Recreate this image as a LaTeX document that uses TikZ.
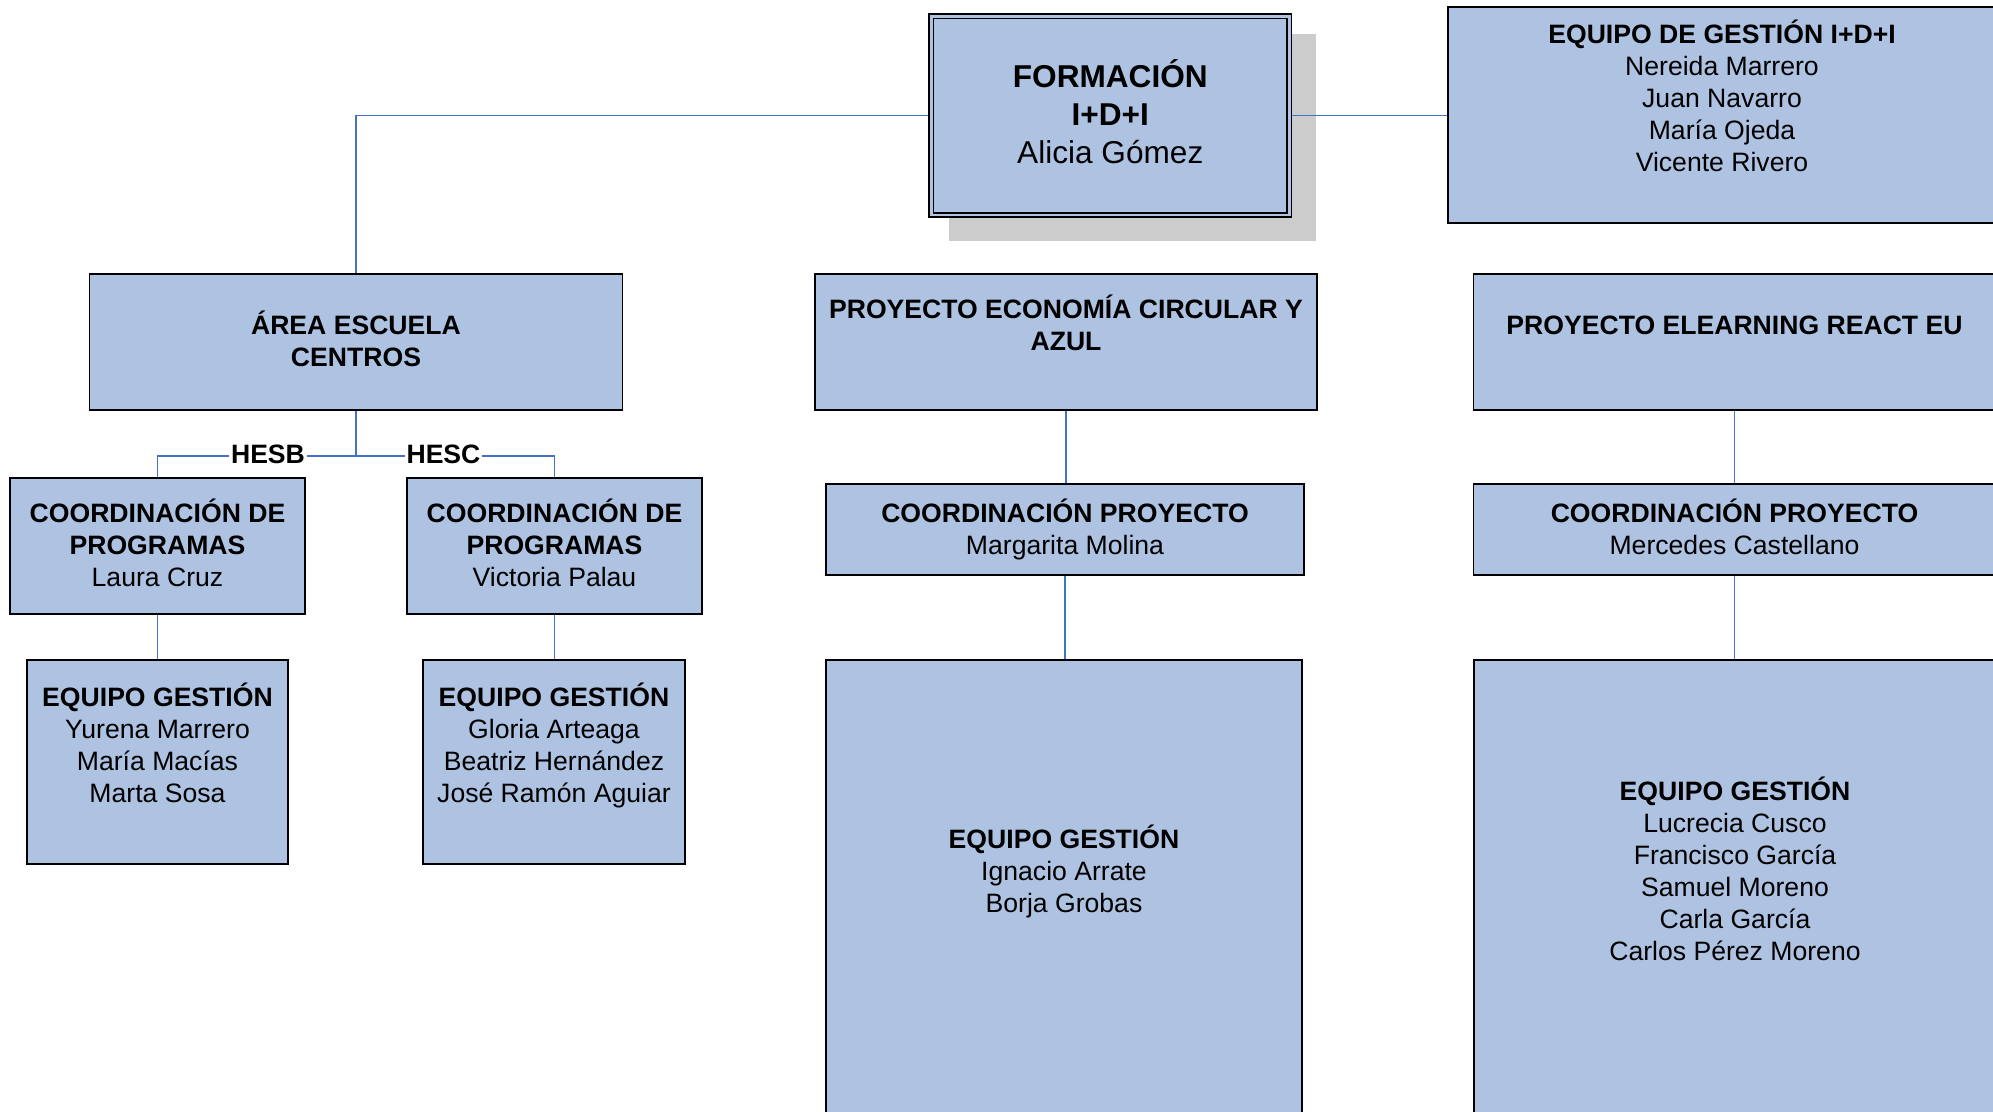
\documentclass[tikz,border=0pt]{standalone}
\usepackage{fontspec}
\setmainfont{Liberation Sans}
\usetikzlibrary{backgrounds}
\definecolor{boxblue}{RGB}{174,194,226}
\definecolor{shadowgray}{RGB}{204,204,204}
\definecolor{connblue}{RGB}{68,114,196}
\newcommand\sT{\rule[-3.55pt]{0pt}{16pt}}
\newcommand\sF{\rule[-4.45pt]{0pt}{19pt}}
\tikzset{
  orgbox/.style={draw=black, line width=0.85pt, fill=boxblue, inner sep=0pt,
    align=center, text=black, font=\fontsize{13.3}{16}\selectfont},
  conn/.style={draw=connblue, line width=0.65pt},
  lbl/.style={fill=white, inner xsep=1pt, inner ysep=1pt, text=black,
    font=\bfseries\fontsize{13.3}{16}\selectfont}
}
\begin{document}
\begin{tikzpicture}[x=0.5pt, y=-0.5pt]
\useasboundingbox (0,0) rectangle (1993,1112);

% top level
\node[orgbox, minimum width=179pt, minimum height=99.25pt, double=boxblue,
      double distance=1.2pt, font=\fontsize{15.8}{19}\selectfont] (form) at (1110.3,115.6)
  {\textbf{FORMACIÓN}\sF\\\textbf{I+D+I}\sF\\Alicia Gómez\sF};
\node[orgbox, minimum width=274pt, minimum height=108pt] (eqid) at (1722,115)
  {\textbf{EQUIPO DE GESTIÓN I+D+I}\sT\\Nereida Marrero\sT\\Juan Navarro\sT\\María Ojeda\sT\\Vicente Rivero\sT\\\sT};

% second row
\node[orgbox, minimum width=266.5pt, minimum height=68pt] (area) at (356,342)
  {\textbf{ÁREA ESCUELA}\sT\\\textbf{CENTROS}\sT};
\node[orgbox, minimum width=251pt, minimum height=68pt] (pec) at (1066,342)
  {\textbf{PROYECTO ECONOMÍA CIRCULAR Y}\sT\\\textbf{AZUL}\sT\\\sT};
\node[orgbox, minimum width=261pt, minimum height=68pt] (pel) at (1734.5,342)
  {\textbf{PROYECTO ELEARNING REACT EU}\sT\\\sT};

% coordination row
\node[orgbox, minimum width=147.5pt, minimum height=68pt] (cpl) at (157.5,546)
  {\textbf{COORDINACIÓN DE}\sT\\\textbf{PROGRAMAS}\sT\\Laura Cruz\sT};
\node[orgbox, minimum width=147.5pt, minimum height=68pt] (cpv) at (554.5,546)
  {\textbf{COORDINACIÓN DE}\sT\\\textbf{PROGRAMAS}\sT\\Victoria Palau\sT};
\node[orgbox, minimum width=239pt, minimum height=45.5pt] (cpm) at (1065,529.5)
  {\textbf{COORDINACIÓN PROYECTO}\sT\\Margarita Molina\sT};
\node[orgbox, minimum width=261pt, minimum height=45.5pt] (cpc) at (1734.5,529.5)
  {\textbf{COORDINACIÓN PROYECTO}\sT\\Mercedes Castellano\sT};

% teams
\node[orgbox, minimum width=130.5pt, minimum height=102pt] (egl) at (157.5,762)
  {\textbf{EQUIPO GESTIÓN}\sT\\Yurena Marrero\sT\\María Macías\sT\\Marta Sosa\sT\\\sT};
\node[orgbox, minimum width=131pt, minimum height=102pt] (egv) at (554,762)
  {\textbf{EQUIPO GESTIÓN}\sT\\Gloria Arteaga\sT\\Beatriz Hernández\sT\\José Ramón Aguiar\sT\\\sT};
\node[orgbox, minimum width=238pt, minimum height=227.5pt] (egi) at (1064,887.5)
  {\textbf{EQUIPO GESTIÓN}\sT\\Ignacio Arrate\sT\\Borja Grobas\sT\\\sT};
\node[orgbox, minimum width=261pt, minimum height=227.5pt] (egc) at (1735,887.5)
  {\textbf{EQUIPO GESTIÓN}\sT\\Lucrecia Cusco\sT\\Francisco García\sT\\Samuel Moreno\sT\\Carla García\sT\\Carlos Pérez Moreno\sT\\\sT};

% branch labels
\node[lbl, anchor=base] (hesb) at (268,464) {HESB};
\node[lbl, anchor=base] (hesc) at (443.5,464) {HESC};

\begin{pgfonlayer}{background}
  \fill[shadowgray] ([shift={(18.7,18.6)}]form.north west) rectangle ([shift={(25.7,25.1)}]form.south east);
  \draw[conn] (form.west) -| (area.north);
  \draw[conn] (form.east) -- (form.east -| eqid.west);
  \coordinate (bus) at (356,456);
  \draw[conn] (area.south) -- (bus);
  \draw[conn] (bus) -| (cpl.north);
  \draw[conn] (bus) -| (cpv.north);
  \draw[conn] (cpl.south) -- (cpl.south |- egl.north);
  \draw[conn] (cpv.south) -- (cpv.south |- egv.north);
  \draw[conn] (pec.south) -- (pec.south |- cpm.north);
  \draw[conn] (cpm.south) -- (cpm.south |- egi.north);
  \draw[conn] (pel.south) -- (pel.south |- cpc.north);
  \draw[conn] (cpc.south) -- (cpc.south |- egc.north);
\end{pgfonlayer}
\end{tikzpicture}
\end{document}
